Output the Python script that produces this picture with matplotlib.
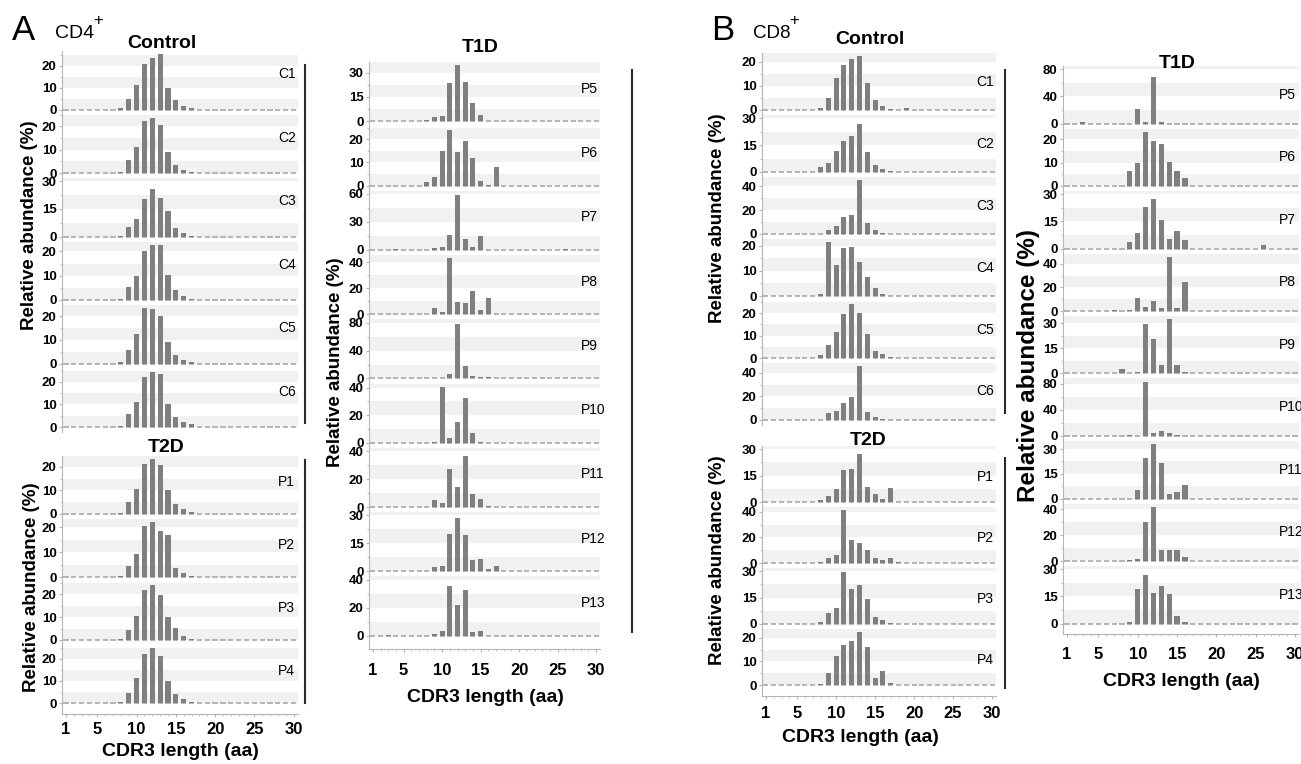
import matplotlib
matplotlib.use("Agg")
import matplotlib.pyplot as plt
from matplotlib.ticker import MultipleLocator
from matplotlib.lines import Line2D

plt.rcParams['font.family'] = ['Liberation Sans', 'DejaVu Sans']

W, H = 1301, 764
fig = plt.figure(figsize=(W / 100, H / 100), dpi=100)
fig.patch.set_facecolor('white')

# ---------------- data ----------------
cdr3_lengths = list(range(1, 31))
xtick_values = [1, 5, 10, 15, 20, 25, 30]

# CD4+ Control
cd4_control_labels = ["C1", "C2", "C3", "C4", "C5", "C6"]
cd4_control_steps = [10, 10, 15, 10, 10, 10]
cd4_C1 = [0, 0, 0, 0, 0, 0, 0, 0.5, 4.8, 11.3, 21.0, 23.8, 25.3, 9.7, 4.3, 1.8, 0.8, 0, 0, 0, 0, 0, 0, 0, 0, 0, 0, 0, 0, 0]
cd4_C2 = [0, 0, 0, 0, 0, 0, 0, 0.5, 5.4, 11.3, 22.4, 23.6, 20.5, 9.0, 3.5, 1.4, 0.5, 0, 0, 0, 0, 0, 0, 0, 0, 0, 0, 0, 0, 0]
cd4_C3 = [0, 0, 0, 0, 0, 0, 0, 0.5, 5.1, 9.5, 20.5, 25.6, 20.9, 13.9, 4.4, 1.7, 0.5, 0, 0, 0, 0, 0, 0, 0, 0, 0, 0, 0, 0, 0]
cd4_C4 = [0, 0, 0, 0, 0, 0, 0, 0.5, 5.2, 9.7, 20.3, 22.5, 22.7, 10.2, 4.1, 1.7, 0.5, 0, 0, 0, 0, 0, 0, 0, 0, 0, 0, 0, 0, 0]
cd4_C5 = [0, 0, 0, 0, 0, 0, 0, 0.6, 5.5, 12.3, 23.3, 23.1, 20.0, 9.1, 3.6, 1.6, 0.5, 0, 0, 0, 0, 0, 0, 0, 0, 0, 0, 0, 0, 0]
cd4_C6 = [0, 0, 0, 0, 0, 0, 0, 0.5, 5.8, 11.1, 22.3, 24.5, 23.5, 10.2, 4.6, 2.0, 1.5, 0, 0, 0, 0, 0, 0, 0, 0, 0, 0, 0, 0, 0]

# CD4+ T2D
cd4_t2d_labels = ["P1", "P2", "P3", "P4"]
cd4_t2d_steps = [10, 10, 10, 10]
cd4_P1 = [0, 0, 0, 0, 0, 0, 0, 0.5, 5.2, 10.8, 21.1, 23.2, 20.8, 10.3, 4.1, 2.1, 1.0, 0, 0, 0, 0, 0, 0, 0, 0, 0, 0, 0, 0, 0]
cd4_P2 = [0, 0, 0, 0, 0, 0, 0, 0.5, 4.3, 9.3, 20.5, 21.9, 18.6, 16.7, 3.8, 1.6, 0.6, 0, 0, 0, 0, 0, 0, 0, 0, 0, 0, 0, 0, 0]
cd4_P3 = [0, 0, 0, 0, 0, 0, 0, 0.6, 4.6, 10.7, 22.0, 24.0, 19.7, 9.9, 5.2, 1.6, 0.6, 0, 0, 0, 0, 0, 0, 0, 0, 0, 0, 0, 0, 0]
cd4_P4 = [0, 0, 0, 0, 0, 0, 0, 0.5, 4.5, 11.2, 22.4, 24.8, 21.1, 9.9, 4.0, 1.6, 0.6, 0, 0, 0, 0, 0, 0, 0, 0, 0, 0, 0, 0, 0]

# CD4+ T1D
cd4_t1d_labels = ["P5", "P6", "P7", "P8", "P9", "P10", "P11", "P12", "P13"]
cd4_t1d_steps = [15, 10, 30, 20, 40, 20, 20, 15, 20]
cd4_P5 = [0, 0, 0, 0, 0, 0, 0, 1.0, 2.8, 3.0, 23.8, 34.5, 24.2, 11.4, 3.9, 0, 0, 0, 0, 0, 0, 0, 0, 0, 0, 0, 0, 0, 0, 0]
cd4_P6 = [0, 0, 0, 0, 0, 0, 0, 1.5, 3.8, 15.0, 24.2, 14.6, 19.5, 12.0, 2.0, 0.3, 8.0, 0, 0, 0, 0, 0, 0, 0, 0, 0, 0, 0, 0, 0]
cd4_P7 = [0, 0, 0, 0.5, 0, 0, 0, 0, 2.4, 3.6, 16.0, 59.0, 11.2, 3.2, 14.4, 0, 0, 0, 0, 0, 0, 0, 0, 0, 0, 0.6, 0, 0, 0, 0]
cd4_P8 = [0, 0, 0, 0, 0, 0, 0, 0, 4.5, 1.9, 43.0, 9.6, 8.3, 18.2, 2.9, 12.2, 0.5, 0, 0, 0, 0, 0, 0, 0, 0, 0, 0, 0, 0, 0]
cd4_P9 = [0, 0, 0, 0, 0, 0, 0, 0, 0.5, 1.0, 6.5, 78.0, 18.0, 4.0, 1.5, 1.5, 0, 0, 0, 0, 0, 0, 0, 0, 0, 0, 0, 0, 0, 0]
cd4_P10 = [0, 0, 0, 0, 0, 0, 0, 0, 0.5, 40.5, 3.8, 14.8, 32.7, 6.9, 0.7, 0, 0, 0, 0, 0, 0, 0, 0, 0, 0, 0, 0, 0, 0, 0]
cd4_P11 = [0, 0, 0, 0, 0, 0, 0, 0, 4.8, 2.7, 27.5, 14.7, 36.8, 9.3, 6.1, 0.8, 0, 0, 0, 0, 0, 0, 0, 0, 0, 0, 0, 0, 0, 0]
cd4_P12 = [0, 0, 0, 0, 0, 0, 0, 0, 2.3, 3.0, 20.3, 28.7, 19.5, 6.2, 6.9, 1.5, 2.8, 0, 0, 0, 0, 0, 0, 0, 0, 0, 0, 0, 0, 0]
cd4_P13 = [0, 0, 0.8, 0, 0, 0, 0, 0, 1.3, 3.4, 35.4, 21.7, 32.5, 2.9, 3.4, 0, 0, 0, 0, 0, 0, 0, 0, 0, 0, 0, 0, 0, 0, 0]

# CD8+ Control
cd8_control_labels = ["C1", "C2", "C3", "C4", "C5", "C6"]
cd8_control_steps = [10, 15, 20, 10, 10, 20]
cd8_C1 = [0, 0, 0, 0, 0, 0, 0, 0.8, 4.9, 13.2, 18.4, 21.1, 22.2, 11.1, 4.1, 1.6, 0.5, 0, 0.7, 0, 0, 0, 0, 0, 0, 0, 0, 0, 0, 0]
cd8_C2 = [0, 0, 0, 0, 0, 0, 0, 2.8, 5.2, 11.6, 17.5, 19.9, 26.7, 11.2, 4.0, 1.8, 0.5, 0, 0, 0, 0, 0, 0, 0, 0, 0, 0, 0, 0, 0]
cd8_C3 = [0, 0, 0, 0, 0, 0, 0, 0, 3.7, 6.8, 14.6, 16.3, 45.0, 9.5, 3.4, 0.8, 0, 0, 0, 0, 0, 0, 0, 0, 0, 0, 0, 0, 0, 0]
cd8_C4 = [0, 0, 0, 0, 0, 0, 0, 0.8, 21.4, 12.4, 19.2, 19.5, 13.5, 7.6, 3.1, 0.9, 0, 0, 0, 0, 0, 0, 0, 0, 0, 0, 0, 0, 0, 0]
cd8_C5 = [0, 0, 0, 0, 0, 0, 0, 1.2, 5.9, 11.7, 19.5, 23.9, 19.8, 10.6, 3.3, 1.6, 0.5, 0, 0, 0, 0, 0, 0, 0, 0, 0, 0, 0, 0, 0]
cd8_C6 = [0, 0, 0, 0, 0, 0, 0, 0, 5.8, 7.8, 14.6, 19.8, 45.5, 6.8, 2.6, 0.8, 0, 0, 0, 0, 0, 0, 0, 0, 0, 0, 0, 0, 0, 0]

# CD8+ T2D
cd8_t2d_labels = ["P1", "P2", "P3", "P4"]
cd8_t2d_steps = [15, 20, 15, 10]
cd8_P1 = [0, 0, 0, 0, 0, 0, 0, 1.2, 3.5, 7.6, 18.0, 18.5, 27.2, 8.7, 4.3, 1.7, 8.0, 0, 0, 0, 0, 0, 0, 0, 0, 0, 0, 0, 0, 0]
cd8_P2 = [0, 0, 0, 0, 0, 0, 0, 0.8, 4.0, 6.2, 41.3, 17.7, 15.8, 10.3, 3.8, 2.2, 4.0, 0.5, 0, 0, 0, 0, 0, 0, 0, 0, 0, 0, 0, 0]
cd8_P3 = [0, 0, 0, 0, 0, 0, 0, 1.0, 6.4, 9.2, 29.6, 19.6, 22.4, 14.0, 4.0, 2.0, 0.8, 0, 0, 0, 0, 0, 0, 0, 0, 0, 0, 0, 0, 0]
cd8_P4 = [0, 0, 0, 0, 0, 0, 0, 0.6, 5.0, 12.4, 17.1, 18.5, 22.4, 16.0, 2.9, 6.1, 0.8, 0, 0, 0, 0, 0, 0, 0, 0, 0, 0, 0, 0, 0]

# CD8+ T1D
cd8_t1d_labels = ["P5", "P6", "P7", "P8", "P9", "P10", "P11", "P12", "P13"]
cd8_t1d_steps = [40, 10, 15, 20, 15, 40, 15, 20, 15]
cd8_P5 = [0, 0, 1.5, 0, 0, 0, 0, 0, 0, 21.3, 2.7, 69.0, 1.5, 0, 0, 0, 0, 0, 0, 0, 0, 0, 0, 0, 0, 0, 0, 0, 0, 0]
cd8_P6 = [0, 0, 0, 0, 0, 0, 0, 0, 6.6, 9.8, 23.1, 19.2, 18.0, 10.1, 6.6, 3.5, 0, 0, 0, 0, 0, 0, 0, 0, 0, 0, 0, 0, 0, 0]
cd8_P7 = [0, 0, 0, 0, 0, 0, 0, 0, 3.8, 8.8, 22.9, 27.2, 15.6, 5.3, 9.9, 4.7, 0, 0, 0, 0, 0, 0, 0, 0, 0, 1.9, 0, 0, 0, 0]
cd8_P8 = [0, 0, 0, 0, 0, 0, 0.5, 0, 0.5, 10.9, 3.6, 8.2, 2.7, 46.0, 2.7, 24.5, 0, 0, 0, 0, 0, 0, 0, 0, 0, 0, 0, 0, 0, 0]
cd8_P9 = [0, 0, 0, 0, 0, 0, 0, 2.9, 0, 0.8, 29.4, 20.8, 5.1, 32.4, 5.1, 0.6, 0, 0, 0, 0, 0, 0, 0, 0, 0, 0, 0, 0, 0, 0]
cd8_P10 = [0, 0, 0, 0, 0, 0, 0, 0, 0.8, 0, 83.0, 5.0, 8.3, 4.4, 2.2, 0, 0, 0, 0, 0, 0, 0, 0, 0, 0, 0, 0, 0, 0, 0]
cd8_P11 = [0, 0, 0, 0, 0, 0, 0, 0, 0, 5.1, 24.7, 32.9, 21.3, 2.6, 4.1, 8.1, 0, 0, 0, 0, 0, 0, 0, 0, 0, 0, 0, 0, 0, 0]
cd8_P12 = [0, 0, 0, 0, 0, 0, 0, 0, 0.5, 1.3, 30.5, 42.0, 8.4, 8.4, 8.4, 3.0, 0, 0, 0, 0, 0, 0, 0, 0, 0, 0, 0, 0, 0, 0]
cd8_P13 = [0, 0, 0, 0, 0, 0, 0, 0, 1.0, 19.0, 26.9, 16.7, 20.6, 16.3, 4.1, 0.6, 0, 0, 0, 0, 0, 0, 0, 0, 0, 0, 0, 0, 0, 0]

# ---------------- style ----------------
BAR = '#7f7f7f'
BAND = '#f1f1f1'
DASH = '#a9a9a9'
AXIS = '#b5b5b5'
XLABEL = "CDR3 length (aa)"
YLABEL = "Relative abundance (%)"


def draw_column(left, width, top, h, series, steps, labels, label_frac,
                extra=0, tick_pad=4):
    n = len(series)
    for i, (vals, step, lab) in enumerate(zip(series, steps, labels)):
        last = (i == n - 1) and extra > 0
        height = h + (extra if last else 0)
        off = 5 + (extra if last else 0)
        ax = fig.add_axes([left / W, 1 - (top + i * h + height) / H,
                           width / W, height / H])
        y1 = max(2 * step, max(vals)) * 1.06
        y0 = -y1 * off / (height - off)
        ax.set_xlim(0.5, 30.5)
        ax.set_ylim(y0, y1)
        k = 0
        while k * step < y1:
            ax.axhspan(k * step, min(k * step + step / 2, y1), color=BAND,
                       lw=0, zorder=0)
            k += 1
        ax.hlines([0] * len(cdr3_lengths),
                  [x - 0.33 for x in cdr3_lengths],
                  [x + 0.33 for x in cdr3_lengths], color=DASH, lw=1.2,
                  zorder=1)
        ax.bar(cdr3_lengths, vals, width=0.66, color=BAR, lw=0, zorder=2)
        ax.set_facecolor('none')
        for s in ('top', 'right'):
            ax.spines[s].set_visible(False)
        ax.spines['left'].set_color(AXIS)
        ax.spines['left'].set_linewidth(0.8)
        ax.set_yticks([0, step, 2 * step])
        ax.set_yticklabels([str(v) for v in (0, step, 2 * step)],
                           fontweight='bold', fontsize=9.5)
        ax.yaxis.set_minor_locator(MultipleLocator(step / 2))
        ax.tick_params(axis='y', which='major', length=2, color=AXIS, pad=2)
        ax.tick_params(axis='y', which='minor', length=1.5, color=AXIS)
        if last:
            ax.spines['bottom'].set_color(AXIS)
            ax.spines['bottom'].set_linewidth(0.8)
            ax.set_xticks(xtick_values)
            ax.set_xticklabels([str(v) for v in xtick_values],
                               fontweight='bold', fontsize=12)
            ax.xaxis.set_minor_locator(MultipleLocator(1))
            ax.tick_params(axis='x', which='major', length=2, color=AXIS,
                           pad=tick_pad)
            ax.tick_params(axis='x', which='minor', length=1.5, color=AXIS)
        else:
            ax.spines['bottom'].set_visible(False)
            ax.set_xticks([])
        ax.text(28, label_frac * y1, lab, ha='left', va='center',
                fontsize=10, clip_on=False)


# CD4+
draw_column(62, 235.5, 51, 63.5,
            [cd4_C1, cd4_C2, cd4_C3, cd4_C4, cd4_C5, cd4_C6],
            cd4_control_steps, cd4_control_labels, 0.6)
draw_column(62, 235.5, 456, 63,
            [cd4_P1, cd4_P2, cd4_P3, cd4_P4],
            cd4_t2d_steps, cd4_t2d_labels, 0.55, extra=6, tick_pad=4)
draw_column(369, 231, 62, 64.3,
            [cd4_P5, cd4_P6, cd4_P7, cd4_P8, cd4_P9, cd4_P10, cd4_P11,
             cd4_P12, cd4_P13],
            cd4_t1d_steps, cd4_t1d_labels, 0.55, extra=8, tick_pad=8)
# CD8+
draw_column(762, 234, 53, 62,
            [cd8_C1, cd8_C2, cd8_C3, cd8_C4, cd8_C5, cd8_C6],
            cd8_control_steps, cd8_control_labels, 0.5)
draw_column(762, 234, 446, 61,
            [cd8_P1, cd8_P2, cd8_P3, cd8_P4],
            cd8_t2d_steps, cd8_t2d_labels, 0.45, extra=6, tick_pad=5)
draw_column(1063, 236, 66, 62.5,
            [cd8_P5, cd8_P6, cd8_P7, cd8_P8, cd8_P9, cd8_P10, cd8_P11,
             cd8_P12, cd8_P13],
            cd8_t1d_steps, cd8_t1d_labels, 0.5, extra=5, tick_pad=8)


def ftext(x, y, s, **kw):
    fig.text(x / W, 1 - y / H, s, **kw)


def vline(x, y0, y1):
    fig.add_artist(Line2D([x / W, x / W], [1 - y0 / H, 1 - y1 / H],
                          transform=fig.transFigure, color='#2a2a2a', lw=1.5))


# panel letters
ftext(12, 30, "A", fontsize=25, ha='left', va='center')
ftext(55, 33, "CD4", fontsize=14, ha='left', va='center')
ftext(93, 21, "+", fontsize=12, ha='left', va='center')
ftext(711, 30, "B", fontsize=25, ha='left', va='center')
ftext(753, 33, "CD8", fontsize=13.5, ha='left', va='center')
ftext(789, 21, "+", fontsize=12, ha='left', va='center')

# group titles
for (x, y, s) in [(162, 43, "Control"), (166, 447, "T2D"), (480, 48, "T1D"),
                  (870, 40, "Control"), (868, 440, "T2D"), (1177, 63, "T1D")]:
    ftext(x, y, s, fontsize=14, fontweight='bold', ha='center', va='center')

# y labels
for (x, y, fs) in [(30, 225, 13.5), (32, 587, 13.5), (336, 362, 13.5),
                   (717, 218, 13.5), (717, 560, 13.5), (1029, 366, 17.5)]:
    ftext(x, y, YLABEL, fontsize=fs, fontweight='bold', rotation=90,
          ha='center', va='center')

# x labels
for (x, y) in [(180, 752), (485, 697), (860, 738), (1181, 682)]:
    ftext(x, y, XLABEL, fontsize=14, fontweight='bold', ha='center',
          va='center')

# group brackets
vline(305, 65, 423)
vline(305, 460, 703)
vline(632, 70, 632)
vline(1005, 70, 413)
vline(1005, 458, 688)

fig.savefig("out.png", dpi=100, facecolor='white')
